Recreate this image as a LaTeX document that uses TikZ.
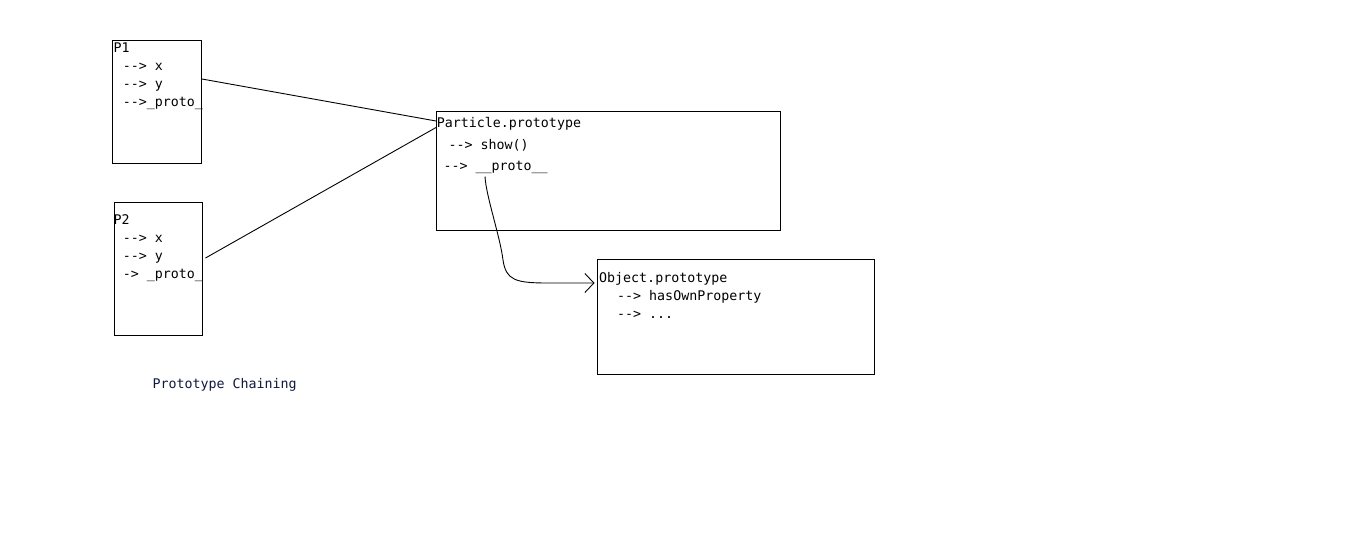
\documentclass[tikz,border=0pt]{standalone}
\usepackage{fontspec}
\setmonofont{DejaVu Sans Mono}
\usetikzlibrary{arrows.meta,calc}
\definecolor{captionink}{RGB}{16,24,64}
\begin{document}
\begin{tikzpicture}[x=1pt,y=-1pt,
  objbox/.style={draw, line width=1pt, anchor=north west, inner sep=0pt, outer sep=0pt},
  code/.style={font=\ttfamily\fontsize{13.3}{15}\selectfont, anchor=base west, inner sep=0pt, text=black},
  link/.style={line width=0.9pt}
]
% canvas
\fill[white] (0,0) rectangle (1348,550);
\useasboundingbox (0,0) rectangle (1348,550);

% object boxes
\node[objbox, minimum width=89pt,  minimum height=123pt]   (p1)  at (112.5,40)   {};
\node[objbox, minimum width=88pt,  minimum height=133pt]   (p2)  at (114.5,202)  {};
\node[objbox, minimum width=344pt, minimum height=119pt]   (pp)  at (436,111.5)  {};
\node[objbox, minimum width=277pt, minimum height=114.5pt] (obj) at (597.5,259.5) {};

% P1 members
\node[code] (p1t) at (113.3,52)    {P1};
\node[code] (p1x) at (122.7,70.5)  {-{}-> x};
\node[code] (p1y) at (122.7,88.5)  {-{}-> y};
\node[code] (p1p) at (122.7,106.5) {-{}->\_proto\_};

% P2 members
\node[code] (p2t) at (113.3,224.3) {P2};
\node[code] (p2x) at (122.7,242.7) {-{}-> x};
\node[code] (p2y) at (122.7,260.5) {-{}-> y};
\node[code] (p2p) at (122.7,278.3) {-> \_proto\_};

% Particle.prototype members
\node[code] (ppt) at (436.7,127)   {Particle.prototype};
\node[code] (pps) at (448.3,149.5) {-{}-> show()};
\node[code] (ppp) at (443.3,170.5) {-{}-> \_\_proto\_\_};

% Object.prototype members
\node[code] (obt) at (599,282)     {Object.prototype};
\node[code] (obh) at (617,300.3)   {-{}-> hasOwnProperty};
\node[code] (obd) at (617,318.3)   {-{}-> ...};

% caption
\node[code, text=captionink] (cap) at (152.3,388.3) {Prototype Chaining};

% instance links to the shared prototype
\draw[link] ($(p1.north east)+(0.5,39)$) -- ($(pp.north west)+(0,9.5)$);
\draw[link] ($(p2.north east)+(3,56)$) -- ($(pp.north west)+(0,16)$);

% __proto__ chain to Object.prototype
\coordinate (chainstart) at (485,176.5);
\coordinate (chainbend) at (503,260);
\draw[link, -{Straight Barb[length=9pt,width=19pt,line width=0.9pt]}]
  (chainstart) .. controls (486,196) and (500,236) .. (chainbend)
  .. controls (506,280) and (515,283) .. (548,283)
  -- ($(obj.north west)+(-3,23.5)$);
\end{tikzpicture}
\end{document}
